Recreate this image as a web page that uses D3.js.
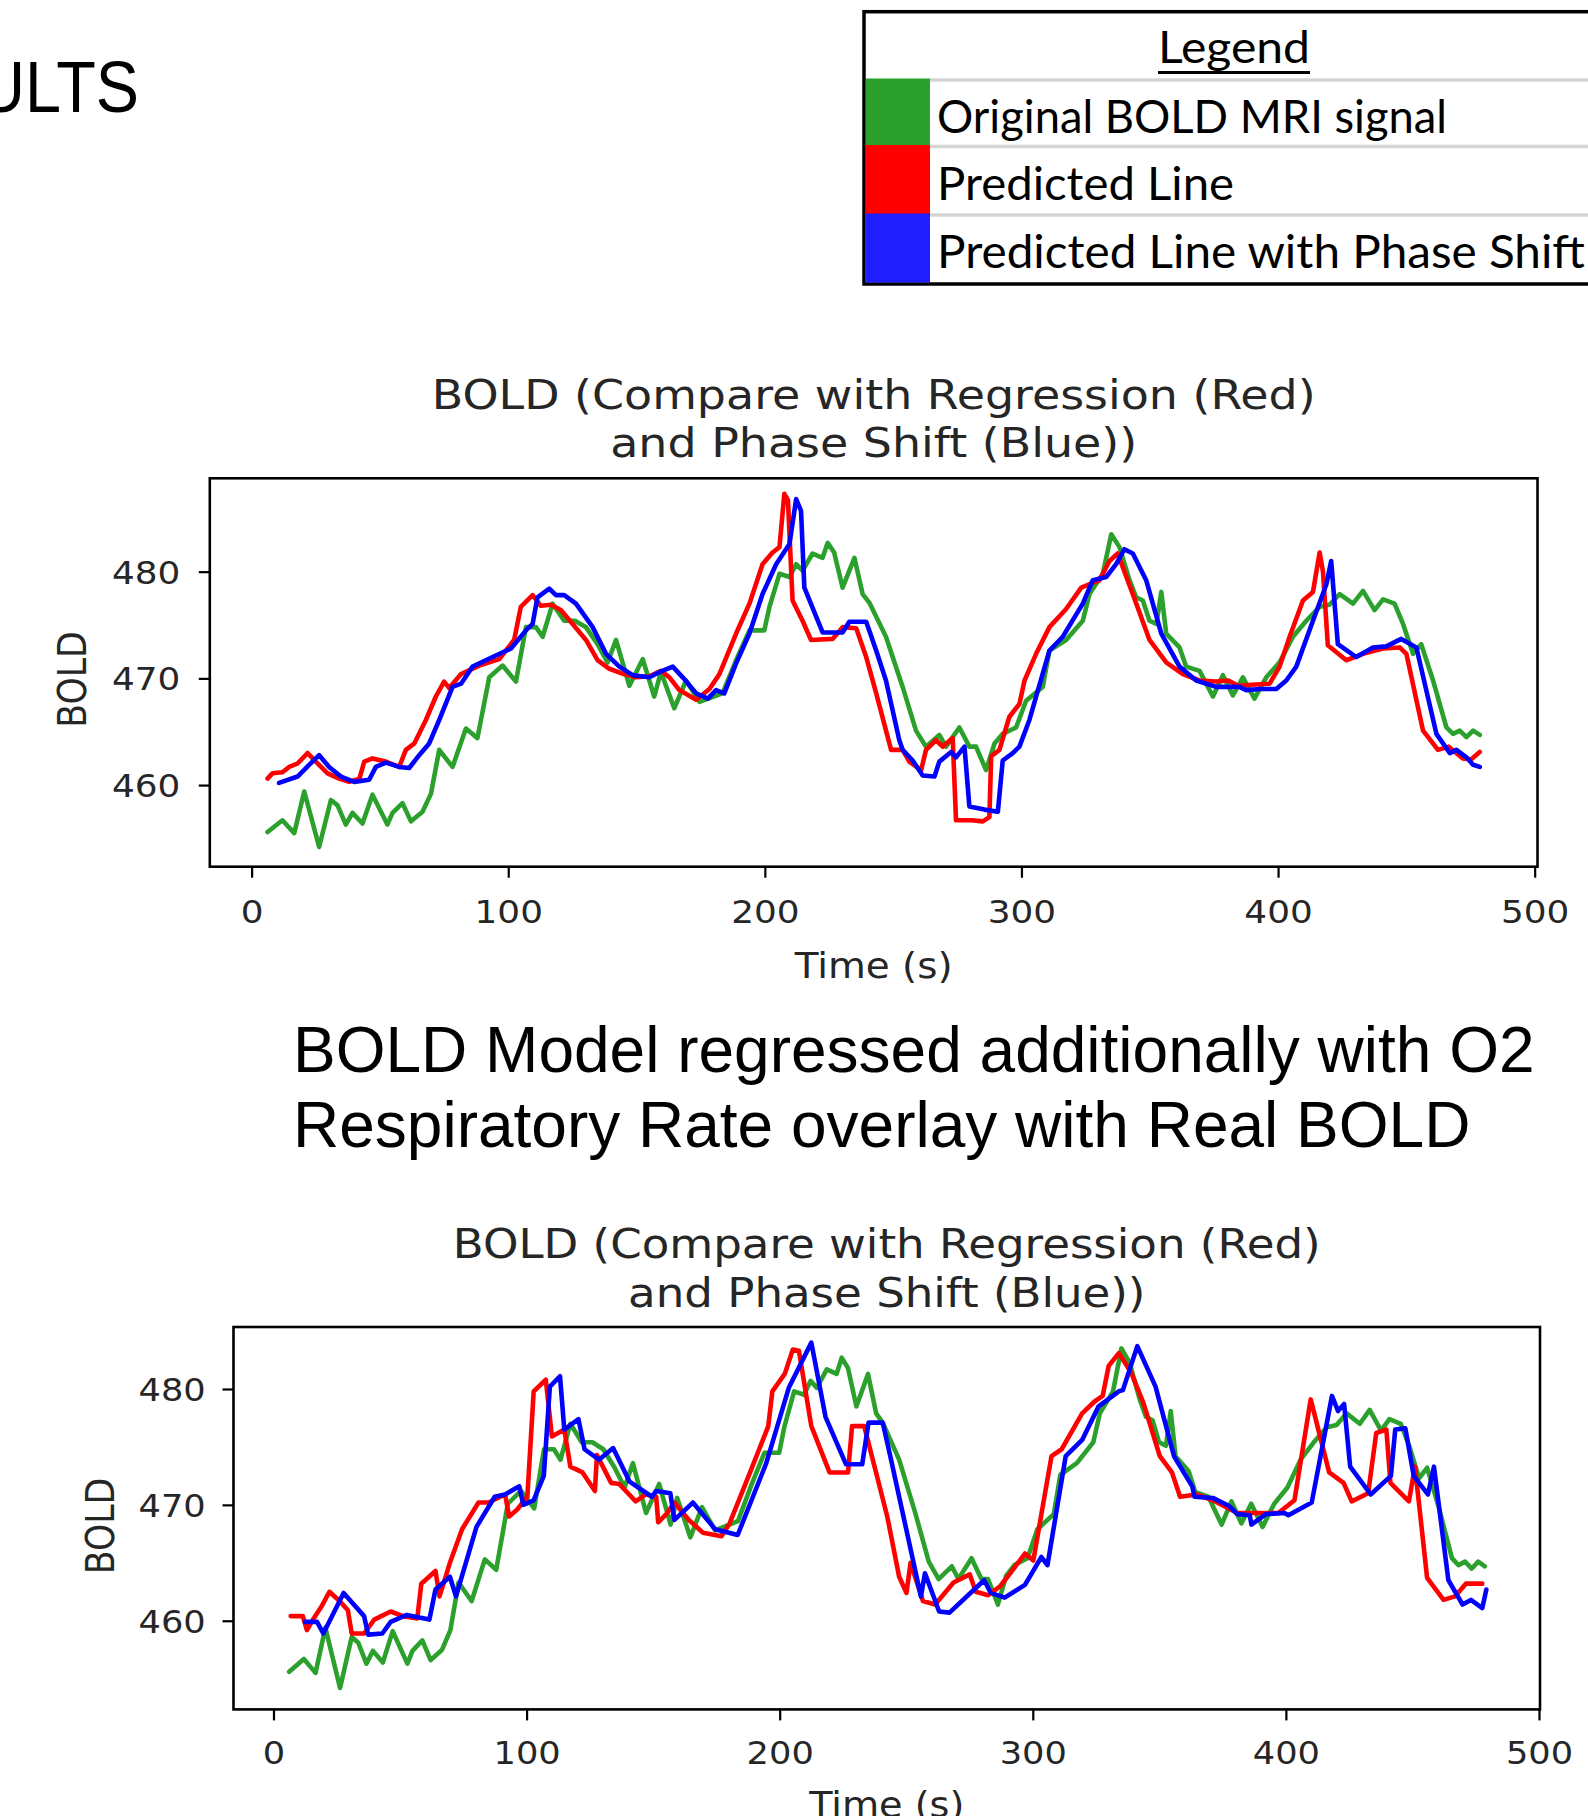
<!DOCTYPE html>
<html>
<head>
<meta charset="utf-8">
<script src="https://cdn.jsdelivr.net/npm/d3@7"></script>
<style>
  body { margin: 0; background: #fff; }
  svg { display: block; }
</style>
</head>
<body>
<div id="slide"></div>
<script>
// original BOLD signal (same in both panels)
const greenTime = [6.2, 12, 16.6, 20.5, 26.3, 30.9, 33.5, 36.7, 39.3, 43.2, 47.1, 52.9, 54.9, 58.8, 62.1, 66.6, 69.9, 73.1, 78.3, 83.5, 88, 92.6, 97.8, 103, 106.9, 110.8, 113.4, 117.3, 121.8, 126, 130.3, 134.8, 138.7, 142, 147.2, 152.4, 156.9, 159.5, 164.7, 169.3, 174.5, 183.5, 188.8, 194, 199.8, 201.8, 205.7, 209.6, 212.2, 214.7, 218.6, 222.5, 224.5, 227, 230.3, 234.9, 238.1, 240.7, 247.2, 253.7, 258.9, 262.8, 268, 270.6, 275.8, 279.7, 282.3, 286.2, 289.5, 292.7, 297.9, 301.8, 308.3, 310.9, 317.4, 323.9, 326.5, 331.7, 335, 338.2, 342.1, 344.7, 347.3, 349.9, 352.6, 354.5, 356.4, 361.6, 364.2, 369.4, 374.6, 378.5, 382.4, 386.3, 390.8, 395.4, 400.6, 405.8, 411, 416.2, 420, 424, 429.2, 433.1, 437.6, 440.9, 445.4, 448.7, 452.6, 455.8, 460.4, 465.6, 468.2, 470.8, 473.4, 476, 478.6]
const greenBold = [455.6, 456.7, 455.5, 459.4, 454.2, 458.6, 458.1, 456.3, 457.4, 456.4, 459.1, 456.3, 457.4, 458.3, 456.6, 457.5, 459.2, 463.3, 461.7, 465.3, 464.4, 470.1, 471.2, 469.7, 474.8, 474.8, 473.9, 477, 475.4, 475.4, 474.8, 473.2, 471.5, 473.6, 469.3, 471.8, 468.3, 470.6, 467.2, 469.8, 467.8, 468.6, 471.7, 474.5, 474.5, 476.7, 479.8, 479.5, 480.7, 480.1, 481.7, 481.3, 482.7, 481.8, 478.5, 481.3, 477.9, 477.1, 473.9, 469.2, 465.1, 463.6, 464.7, 463.6, 465.4, 463.6, 463.6, 461.4, 463.9, 464.8, 465.4, 467.9, 469.2, 472.6, 473.6, 475.4, 477.9, 479.8, 483.5, 482.3, 479.2, 477.6, 477.3, 475.4, 475.1, 478.1, 474.2, 472.9, 471.1, 470.7, 468.3, 470.3, 468.4, 470.1, 468.1, 470.1, 471.5, 473.9, 475.4, 476.7, 476.9, 477.9, 477, 478.2, 476.4, 477.4, 477, 475.1, 472.3, 473.2, 469.8, 465.4, 464.8, 465.1, 464.5, 465.1, 464.7]

// upper panel: regression (red) and phase shift (blue)
const redTopTime = [6.2, 8.1, 12, 14.6, 17.8, 21.8, 25, 29.6, 34.1, 38, 42, 43.9, 47.1, 52.3, 57.5, 60.1, 63.4, 67.9, 71.8, 75, 77, 81.6, 88.7, 96.5, 102.3, 104.9, 109.5, 112.7, 116.6, 120.5, 125.1, 130.3, 134.8, 139.4, 145, 149.8, 155, 159.5, 162.8, 166.7, 173.2, 178.4, 182.3, 188.8, 194, 199.1, 203, 205.7, 207.6, 209, 210.8, 214.7, 218, 226.4, 230.3, 235.6, 239.5, 243.4, 249.2, 253.7, 256.3, 260.9, 262.8, 266.7, 269.3, 273.2, 274.5, 280.4, 284.9, 287.5, 288.2, 291.4, 295.3, 299.2, 301.2, 305.7, 310.9, 317.4, 323.3, 330.4, 334.3, 337.5, 343.4, 349.9, 356.4, 362.9, 369.4, 375.9, 380.6, 384.5, 389.7, 396.7, 400.6, 404.5, 409.7, 413.6, 416.2, 417.5, 419.4, 426.6, 433.1, 440.9, 447.4, 450, 456.5, 462.3, 466.5, 472, 475.2, 478.6]
const redTopBold = [460.6, 461.1, 461.2, 461.7, 462, 463, 462.2, 461.1, 460.6, 460.3, 460.6, 462.2, 462.5, 462.2, 461.7, 463.3, 463.9, 466.1, 468.3, 469.7, 469.1, 470.4, 471.2, 471.8, 473.6, 476.7, 477.8, 476.8, 476.9, 476.4, 475.1, 473.6, 471.7, 470.9, 470.4, 470.1, 470.2, 470.7, 470.1, 468.9, 468, 469, 470.4, 474.2, 477, 480.7, 481.8, 482.3, 487.3, 486.7, 477.3, 475.4, 473.6, 473.7, 474.8, 474.7, 472, 468.6, 463.3, 463.3, 462.2, 461.4, 463.3, 464.2, 463.6, 464.4, 456.7, 456.7, 456.6, 457, 462.7, 463.3, 466.4, 467.6, 469.8, 472.3, 474.8, 476.5, 478.5, 479.2, 481, 481.7, 477.9, 473.6, 471.5, 470.4, 469.8, 469.7, 469.8, 469.3, 469.4, 469.5, 471.1, 473.9, 477.3, 478.1, 481.8, 480, 473.1, 471.7, 472.3, 472.8, 472.9, 472.3, 465.1, 463.3, 463.6, 462.5, 462.4, 463.1]
const blueTopTime = [10.7, 17.9, 22.4, 26.3, 30.2, 34.8, 40, 45.8, 48.4, 52.3, 57.5, 61.4, 65.3, 69.2, 73.1, 78.3, 81.6, 86.1, 93.9, 101.1, 106.9, 109.5, 111.4, 116, 118.6, 121.8, 126.4, 132.9, 138.1, 143.3, 148.5, 155, 159.1, 164.1, 168, 173.2, 177.8, 181, 184.2, 188.8, 194, 199.1, 204.4, 209.6, 212.2, 214.1, 215.4, 222.5, 230.3, 232.9, 239.5, 243.4, 247.2, 252.4, 253.7, 257.6, 261.5, 266.1, 268, 272.6, 274.5, 277.8, 279.7, 285.6, 290.8, 292.7, 296.6, 299.2, 303.1, 305.7, 310.9, 316.1, 323.9, 327.8, 333, 336.9, 340.1, 343.4, 348.6, 354.5, 361.6, 368.1, 375.9, 385, 387.6, 393, 399.3, 403.2, 407.1, 413.6, 418.8, 420.7, 423.3, 430.5, 437, 442.2, 448, 453.9, 461.7, 466.9, 469.5, 473.4, 476, 478.6]
const blueTopBold = [460.2, 460.8, 461.9, 462.8, 461.7, 460.8, 460.3, 460.5, 461.7, 462.1, 461.7, 461.6, 462.8, 463.9, 466.1, 469.2, 469.5, 471.1, 472, 472.8, 474.5, 475.1, 477.6, 478.4, 477.8, 477.8, 477, 474.8, 472.3, 471.1, 470.3, 470.1, 470.6, 471.1, 470.1, 468.6, 468.1, 468.9, 468.6, 471.4, 474.2, 477.9, 480.7, 482.6, 486.8, 485.7, 478.5, 474.3, 474.3, 475.3, 475.3, 472.6, 469.8, 464.2, 463.3, 462.3, 460.9, 460.8, 462.2, 463.1, 462.6, 463.6, 458, 457.7, 457.5, 462.3, 463, 463.6, 466.1, 468.3, 472.6, 473.9, 477, 479.2, 479.5, 480.7, 482.1, 481.7, 479.2, 474.2, 471.1, 469.8, 469.2, 469.2, 468.9, 469, 469, 469.8, 471.1, 475.4, 478.8, 481, 473.2, 472, 472.9, 473, 473.7, 472.9, 464.8, 463, 463.3, 462.6, 461.9, 461.7]

// lower panel: model regressed additionally with O2 respiratory rate
const redBotTime = [6.8, 11.6, 13.2, 15.6, 18.9, 22.1, 26.1, 29.4, 30.9, 35.8, 39.8, 46.3, 51.1, 56.8, 58.4, 64, 65.6, 69.7, 74.5, 81, 85, 91.5, 93.1, 96.3, 100.3, 102.8, 107.6, 110, 114.9, 117.3, 122.1, 127, 127.8, 133.4, 136.6, 143.1, 147.1, 151.2, 152, 155.2, 158.4, 164.1, 169.7, 177, 180.2, 188.3, 195.5, 197.1, 202, 205.2, 207.6, 212.5, 219.7, 227, 228.6, 233.4, 242.5, 247.2, 250.1, 251.7, 256.6, 261.4, 268.7, 275.1, 277.5, 282.4, 287.2, 292.1, 296.9, 300.2, 307.4, 311.4, 319.5, 324.3, 327.6, 330, 334, 338.9, 343.7, 350.2, 355, 358.2, 364.7, 371.1, 380.8, 388.9, 397, 403.4, 409.8, 417.1, 422.8, 426, 432.5, 435.7, 439.7, 441.3, 448.6, 451, 455.8, 462.3, 466.8, 471.1, 477.6]
const redBotBold = [460.4, 460.4, 459.2, 460.1, 461.2, 462.5, 461.7, 460.9, 458.9, 458.9, 460.1, 460.8, 460.4, 460.2, 463.2, 464.3, 462.1, 465, 467.9, 470.2, 470.2, 470.9, 469, 469.6, 470.7, 479.8, 480.8, 475.9, 476.5, 473.3, 472.8, 471.2, 474.3, 471.9, 471.8, 470.3, 470.9, 470.7, 468.5, 469.2, 470.2, 468.7, 467.6, 467.3, 468.4, 472.8, 476.8, 479.8, 481.3, 483.4, 483.3, 476.8, 472.8, 472.8, 476.8, 476.8, 469, 463.8, 462.4, 465, 461.7, 461.4, 463.3, 464, 462.5, 462.2, 463, 464.4, 465.8, 465.2, 474.2, 474.8, 477.9, 478.9, 479.4, 482, 483.1, 481.4, 478.8, 474.2, 472.8, 470.7, 470.9, 470.4, 469.3, 469.3, 469.3, 470.4, 479.1, 472.8, 471.9, 470.3, 471, 476.2, 476.5, 471.9, 470.3, 473.3, 463.7, 461.8, 462.1, 463.2, 463.2]
const blueBotTime = [12.4, 17.2, 19.7, 27.7, 35.8, 37.4, 43, 46.3, 52.7, 61.6, 64, 69.7, 72.1, 80.2, 87.4, 91.5, 97.1, 98.7, 102.8, 106.8, 109.2, 113.2, 114.9, 120.5, 122.9, 128.6, 134.2, 140.7, 149.5, 151.2, 156.8, 158.4, 165.7, 174.5, 183.4, 194.7, 203.6, 212.5, 218.1, 226.2, 232.6, 235.1, 240.7, 243.7, 255.8, 257.4, 263, 267.1, 275.9, 280.8, 283.4, 288.9, 296.9, 303.4, 305.8, 313, 319.5, 326, 334, 335.6, 341.3, 348.5, 355.8, 363, 363.9, 371.1, 377.6, 380.8, 385.7, 386.4, 392.1, 399.4, 401, 410.2, 418.2, 420.6, 423, 425.4, 433.5, 441.5, 443.2, 447.2, 450.5, 456.1, 458.5, 464.2, 469.8, 473.1, 477.6, 479.2]
const blueBotBold = [459.9, 459.9, 458.9, 462.4, 460.4, 458.8, 458.9, 459.9, 460.5, 460.1, 462.7, 463.8, 462.1, 468.1, 470.7, 470.9, 471.6, 470, 470.4, 472.5, 480.2, 481.1, 476.5, 477.4, 474.8, 473.9, 474.9, 472, 470.7, 471.2, 471, 468.7, 470.2, 467.9, 467.4, 473.6, 480.1, 484, 477.6, 473.5, 473.5, 477.1, 477.1, 474.2, 462.1, 464.1, 460.8, 460.7, 462.5, 463.5, 462.4, 462, 463.1, 465.5, 464.8, 474.2, 475.6, 478.5, 479.8, 479.9, 483.7, 480.2, 474.2, 471.6, 470.7, 470.6, 469.9, 469.2, 469.1, 468.3, 469.2, 469.3, 469.1, 470.2, 479.4, 478.1, 478.7, 473.3, 470.9, 472.5, 476.5, 476.6, 472.5, 470.9, 473.3, 463.5, 461.4, 461.8, 461.1, 462.7]

const xTicks = [0, 100, 200, 300, 400, 500]
const yTicks = [460, 470, 480]
const legendLabels = ['Original BOLD MRI signal', 'Predicted Line', 'Predicted Line with Phase Shift']
const legendColors = ['#2ca02c', '#ff0000', '#1e1eff']
const seriesColors = { green: '#2ca02c', red: '#ff0000', blue: '#0000ff' }

const W = 1588
const H = 1816

const svg = d3
  .select('#slide')
  .append('svg')
  .attr('width', W)
  .attr('height', H)

svg.append('rect').attr('width', W).attr('height', H).attr('fill', '#fff')

// slide heading, cut off on the left like the original slide
svg
  .append('text')
  .attr('transform', 'translate(139,111.7) scale(0.9,1)')
  .attr('text-anchor', 'end')
  .attr('font-family', 'Liberation Sans, Arial, sans-serif')
  .attr('font-size', 72)
  .attr('fill', '#000')
  .text('RESULTS')

// legend table
const lg = svg.append('g')
lg.append('rect')
  .attr('x', 864)
  .attr('y', 11.7)
  .attr('width', W - 864 + 20)
  .attr('height', 272.3)
  .attr('fill', '#fff')
  .attr('stroke', '#000')
  .attr('stroke-width', 3.5)

lg.append('text')
  .attr('x', 1158)
  .attr('y', 63.3)
  .attr('font-family', 'Lato, sans-serif')
  .attr('font-size', 45)
  .attr('textLength', 152)
  .attr('lengthAdjust', 'spacingAndGlyphs')
  .text('Legend')
lg.append('line')
  .attr('x1', 1158).attr('x2', 1310)
  .attr('y1', 72.5).attr('y2', 72.5)
  .attr('stroke', '#000').attr('stroke-width', 3)

const rowTop = [80, 146.5, 215]
const rowBottom = [146.5, 215, 282.5]
const textBase = [133.3, 200, 268.3]
const textWidth = [510, 297, 648]

lg.selectAll('.sep')
  .data(rowTop)
  .enter()
  .append('line')
  .attr('class', 'sep')
  .attr('x1', 930).attr('x2', W)
  .attr('y1', d => d).attr('y2', d => d)
  .attr('stroke', '#d4d4d4')
  .attr('stroke-width', 3.5)

lg.selectAll('.swatch')
  .data(legendColors)
  .enter()
  .append('rect')
  .attr('class', 'swatch')
  .attr('x', 866)
  .attr('y', (d, i) => rowTop[i] - 1.5)
  .attr('width', 64)
  .attr('height', (d, i) => rowBottom[i] - rowTop[i] + 1.5)
  .attr('fill', d => d)

lg.selectAll('.lab')
  .data(legendLabels)
  .enter()
  .append('text')
  .attr('class', 'lab')
  .attr('x', 937)
  .attr('y', (d, i) => textBase[i])
  .attr('font-family', 'Lato, sans-serif')
  .attr('font-size', 46)
  .attr('textLength', (d, i) => textWidth[i])
  .attr('lengthAdjust', 'spacingAndGlyphs')
  .text(d => d)

// caption between the two plots
const caption = ['BOLD Model regressed additionally with O2', 'Respiratory Rate overlay with Real BOLD']
svg
  .append('g')
  .selectAll('text')
  .data(caption)
  .enter()
  .append('text')
  .attr('x', 293)
  .attr('y', (d, i) => [1072, 1147][i])
  .attr('font-family', 'Liberation Sans, Arial, sans-serif')
  .attr('font-size', 64)
  .attr('fill', '#000')
  .text(d => d)

function panel(opt, series) {
  const x = d3.scaleLinear().domain(opt.xDomain).range([opt.left, opt.right])
  const y = d3.scaleLinear().domain(opt.yDomain).range([opt.bottom, opt.top])
  const g = svg.append('g')
  const font = 'DejaVu Sans, sans-serif'

  // title, two lines
  g.selectAll('.ttl')
    .data(['BOLD (Compare with Regression (Red)', 'and Phase Shift (Blue))'])
    .enter()
    .append('text')
    .attr('class', 'ttl')
    .attr('transform', (d, i) => `translate(${(opt.left + opt.right) / 2},${opt.titleY[i]}) scale(${opt.sx},1)`)
    .attr('text-anchor', 'middle')
    .attr('font-family', font)
    .attr('font-size', 41)
    .attr('fill', '#262626')
    .text(d => d)

  // axes
  const xAxis = g
    .append('g')
    .attr('transform', `translate(0,${opt.bottom})`)
    .call(d3.axisBottom(x).tickValues(xTicks).tickSize(11).tickFormat(d3.format('d')))
  xAxis.select('.domain').remove()
  xAxis.selectAll('line').attr('stroke', '#000').attr('stroke-width', 2.2)
  xAxis
    .selectAll('text')
    .attr('y', 0)
    .attr('dy', 0)
    .attr('transform', `translate(0,${opt.xTickBase - opt.bottom}) scale(${opt.sx},1)`)
    .attr('font-family', font)
    .attr('font-size', 32)
    .attr('fill', '#262626')

  const yAxis = g
    .append('g')
    .attr('transform', `translate(${opt.left},0)`)
    .call(d3.axisLeft(y).tickValues(yTicks).tickSize(11).tickFormat(d3.format('d')))
  yAxis.select('.domain').remove()
  yAxis.selectAll('line').attr('stroke', '#000').attr('stroke-width', 2.2)
  yAxis
    .selectAll('text')
    .attr('x', 0)
    .attr('dy', '0.36em')
    .attr('transform', `translate(${opt.yTickRight},0) scale(${opt.sx},1)`)
    .attr('font-family', font)
    .attr('font-size', 32)
    .attr('fill', '#262626')

  g.append('text')
    .attr('transform', `translate(${(opt.left + opt.right) / 2},${opt.xLabelBase}) scale(${opt.sx},1)`)
    .attr('text-anchor', 'middle')
    .attr('font-family', font)
    .attr('font-size', 34.7)
    .attr('fill', '#262626')
    .text('Time (s)')

  g.append('text')
    .attr('transform', `translate(${opt.yLabelX},${opt.yLabelY}) rotate(-90) scale(1,${opt.sx})`)
    .attr('text-anchor', 'middle')
    .attr('font-family', font)
    .attr('font-size', 34.7)
    .attr('fill', '#262626')
    .text('BOLD')

  const line = d3
    .line()
    .x(d => x(d[0]))
    .y(d => y(d[1]))

  g.selectAll('.series')
    .data(series)
    .enter()
    .append('path')
    .attr('class', 'series')
    .attr('d', s => line(d3.zip(s.t, s.v)))
    .attr('fill', 'none')
    .attr('stroke', s => s.color)
    .attr('stroke-width', 4.6)
    .attr('stroke-linejoin', 'round')
    .attr('stroke-linecap', 'round')

  // frame
  g.append('rect')
    .attr('x', opt.left)
    .attr('y', opt.top)
    .attr('width', opt.right - opt.left)
    .attr('height', opt.bottom - opt.top)
    .attr('fill', 'none')
    .attr('stroke', '#000')
    .attr('stroke-width', 2.6)
}

panel(
  {
    left: 209.8, right: 1537.5, top: 478.3, bottom: 866.7,
    xDomain: [-16.3, 501.1], yDomain: [452.35, 488.75],
    sx: 1.12, titleY: [408.5, 457], xTickBase: 923.3, xLabelBase: 977.5,
    yTickRight: -29.5, yLabelX: 86, yLabelY: 679.5
  },
  [
    { t: greenTime, v: greenBold, color: seriesColors.green },
    { t: redTopTime, v: redTopBold, color: seriesColors.red },
    { t: blueTopTime, v: blueTopBold, color: seriesColors.blue }
  ]
)

panel(
  {
    left: 233.5, right: 1540, top: 1327, bottom: 1709.4,
    xDomain: [-15.8, 500.4], yDomain: [452.35, 485.35],
    sx: 1.1, titleY: [1257.9, 1306.6], xTickBase: 1764.2, xLabelBase: 1816.5,
    yTickRight: -27.8, yLabelX: 114, yLabelY: 1526
  },
  [
    { t: greenTime, v: greenBold, color: seriesColors.green },
    { t: redBotTime, v: redBotBold, color: seriesColors.red },
    { t: blueBotTime, v: blueBotBold, color: seriesColors.blue }
  ]
)
</script>
</body>
</html>
